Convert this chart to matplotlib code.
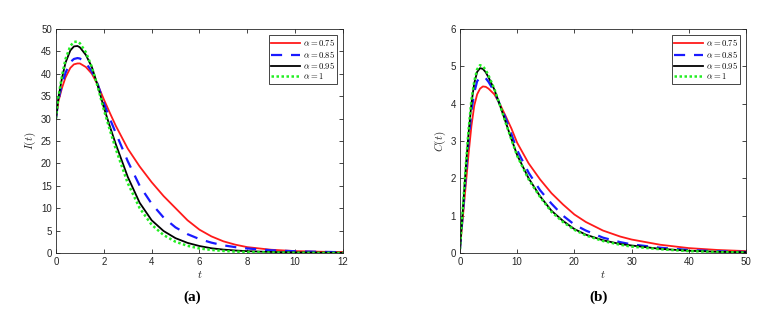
import matplotlib
matplotlib.use("Agg")
import matplotlib.pyplot as plt

plt.rcParams["mathtext.fontset"] = "cm"
plt.rcParams["font.family"] = "Liberation Sans"

# ---- panel (a): I(t) ----
t_a = [0, 0.1, 0.25, 0.4, 0.6, 0.75, 0.9, 1, 1.25, 1.5, 1.75, 2, 2.25, 2.5,
       3, 3.5, 4, 4.5, 5, 5.5, 6, 6.5, 7, 7.5, 8, 9, 10, 11, 12]
I_075 = [30, 33.8, 36.8, 39.2, 41.3, 42.1, 42.3, 42.3, 41.5, 40.0, 37.5, 34.3,
         31.3, 28.4, 23.3, 19.3, 15.8, 12.7, 10.0, 7.3, 5.2, 3.7, 2.6, 1.85,
         1.3, 0.72, 0.42, 0.28, 0.2]
I_085 = [30, 34.2, 37.5, 40.2, 42.6, 43.3, 43.5, 43.4, 42.4, 40.5, 37.6, 33.5,
         30.0, 26.8, 20.5, 15.0, 11.0, 7.9, 5.7, 4.2, 3.1, 2.3, 1.7, 1.3, 1.0,
         0.6, 0.38, 0.25, 0.17]
I_095 = [30, 34.6, 39.0, 42.5, 45.2, 46.1, 46.2, 45.9, 44.2, 41.5, 37.3, 32.5,
         28.3, 24.3, 17.0, 11.2, 7.3, 4.9, 3.3, 2.25, 1.55, 1.05, 0.75, 0.55,
         0.4, 0.22, 0.13, 0.08, 0.05]
I_100 = [30, 34.8, 39.5, 43.3, 46.2, 47.1, 47.2, 46.8, 44.8, 41.5, 37.0, 32.0,
         27.5, 23.2, 15.6, 10.0, 6.3, 4.0, 2.5, 1.6, 1.0, 0.68, 0.45, 0.3,
         0.2, 0.1, 0.05, 0.02, 0.01]

# ---- panel (b): C(t) ----
t_b = [0, 0.25, 0.5, 1, 1.5, 2, 2.5, 3, 3.5, 4, 4.5, 5, 6, 7, 8, 9, 10, 12,
       14, 16, 18, 20, 22, 25, 28, 30, 35, 40, 45, 50]
C_075 = [0.1, 0.55, 0.95, 1.8, 2.65, 3.4, 3.95, 4.25, 4.4, 4.46, 4.45, 4.4,
         4.25, 3.98, 3.66, 3.33, 2.95, 2.4, 1.97, 1.6, 1.3, 1.03, 0.83, 0.6,
         0.44, 0.36, 0.22, 0.13, 0.08, 0.05]
C_085 = [0.1, 0.6, 1.05, 2.05, 3.0, 3.8, 4.3, 4.6, 4.7, 4.72, 4.68, 4.58,
         4.32, 3.97, 3.6, 3.18, 2.75, 2.15, 1.68, 1.32, 1.0, 0.76, 0.6, 0.41,
         0.29, 0.23, 0.14, 0.08, 0.045, 0.025]
C_095 = [0.1, 0.65, 1.15, 2.25, 3.2, 4.0, 4.55, 4.85, 4.95, 4.93, 4.84, 4.7,
         4.38, 3.95, 3.5, 3.05, 2.62, 2.0, 1.52, 1.13, 0.86, 0.64, 0.49, 0.34,
         0.24, 0.2, 0.11, 0.06, 0.03, 0.02]
C_100 = [0.1, 0.68, 1.2, 2.3, 3.3, 4.1, 4.6, 4.92, 5.03, 5.0, 4.9, 4.75, 4.4,
         3.95, 3.48, 3.03, 2.6, 1.97, 1.5, 1.1, 0.83, 0.62, 0.47, 0.32, 0.22,
         0.17, 0.1, 0.05, 0.025, 0.012]

labels = [r"$\alpha = 0.75$", r"$\alpha = 0.85$", r"$\alpha = 0.95$", r"$\alpha = 1$"]
styles = [
    dict(color="#ff1a1a", linestyle="-", linewidth=1.3),
    dict(color="#1a1aff", linestyle=(0, (5, 4)), linewidth=1.6),
    dict(color="black", linestyle="-", linewidth=1.3),
    dict(color="#22ee22", linestyle=(0, (1, 1)), linewidth=1.8),
]


def style_axes(ax, xlim, ylim, xticks, yticks, ylabel):
    ax.set_xlim(*xlim)
    ax.set_ylim(*ylim)
    ax.set_xticks(xticks)
    ax.set_yticks(yticks)
    ax.tick_params(direction="in", top=True, right=True, length=3,
                   width=0.6, labelsize=7, colors="#262626", pad=3)
    for s in ax.spines.values():
        s.set_color("#262626")
        s.set_linewidth(0.6)
    ax.set_xlabel(r"$t$", fontsize=8, color="#262626", labelpad=1)
    ax.set_ylabel(ylabel, fontsize=8, color="#262626", labelpad=2)
    leg = ax.legend(loc="upper right", fontsize=6.2, handlelength=3.4,
                    fancybox=False, edgecolor="#262626", framealpha=1,
                    borderpad=0.25, labelspacing=0.05, handletextpad=0.3,
                    borderaxespad=0.7)
    leg.get_frame().set_linewidth(0.6)


fig = plt.figure(figsize=(7.71, 3.10), dpi=100)
ax1 = fig.add_axes([0.0726, 0.184, 0.3722, 0.7226])
ax2 = fig.add_axes([0.5966, 0.184, 0.371, 0.7226])

for y, lab, st in zip([I_075, I_085, I_095, I_100], labels, styles):
    ax1.plot(t_a, y, label=lab, **st)
for y, lab, st in zip([C_075, C_085, C_095, C_100], labels, styles):
    ax2.plot(t_b, y, label=lab, **st)

style_axes(ax1, (0, 12), (0, 50), range(0, 13, 2), range(0, 51, 5), r"$I(t)$")
style_axes(ax2, (0, 50), (0, 6), range(0, 51, 10), range(0, 7), r"$C(t)$")

cap = dict(ha="center", va="center", fontsize=11, fontweight="bold",
           family=["Liberation Serif", "DejaVu Serif"])
fig.text(0.249, 0.042, "(a)", **cap)
fig.text(0.776, 0.042, "(b)", **cap)

fig.savefig("out.png", dpi=100)
